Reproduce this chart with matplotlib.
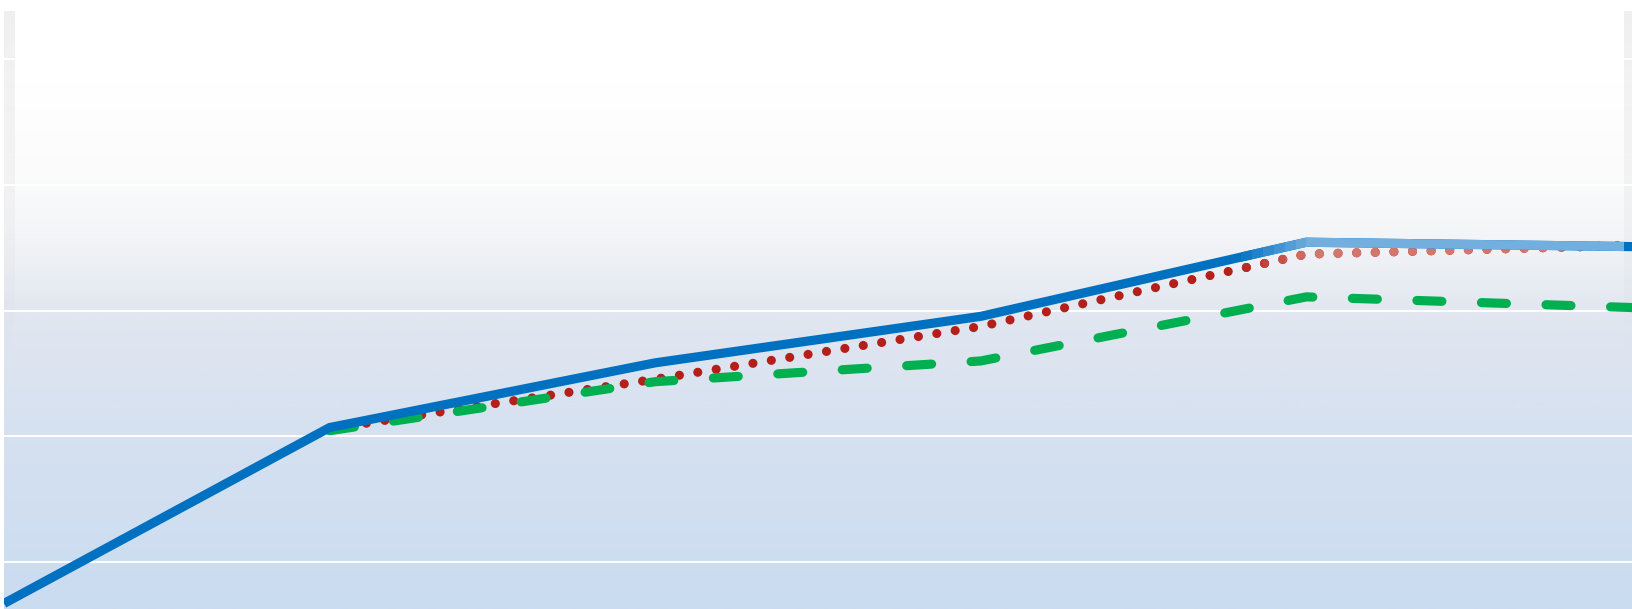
import numpy as np
import matplotlib
matplotlib.use("Agg")
import matplotlib.pyplot as plt
from matplotlib.colors import LinearSegmentedColormap, to_rgb
from matplotlib.patches import Rectangle

plt.rcParams['lines.scale_dashes'] = False

# data
x_blue = [0, 1, 2, 3, 4, 5]
y_blue = [-6.6, 21.4, 31.7, 39.1, 50.9, 50.2]
x_red = [1, 2, 3, 4, 5]
y_red = [21.2, 29.1, 37.5, 49.0, 50.4]
x_green = [1, 2, 3, 4, 5]
y_green = [20.9, 28.7, 32.0, 42.2, 40.5]
grid_vals = [0, 20, 40, 60, 80]

blue = "#0070c0"
red = "#b51f1a"
green = "#00b050"
light_blue = "#72afde"
light_red = "#d3776c"

y_lo, y_hi = -7.48, 87.7
x_lo, x_hi = 0, 5

fig = plt.figure(figsize=(16.32, 6.09), dpi=100)
ax = fig.add_axes([4 / 1632, 0, 1 - 4 / 1632, 1 - 11 / 609])
ax.set_xlim(x_lo, x_hi)
ax.set_ylim(y_lo, y_hi)
ax.axis("off")

# background gradient (top -> bottom)
stops = [(0.0, "#ffffff"), (0.12, "#ffffff"), (0.28, "#fbfbfc"),
         (0.36, "#f5f6f8"), (0.43, "#eceff4"), (0.50, "#e2e7f0"),
         (0.70, "#d6e1f0"), (1.0, "#cadcf1")]
cmap = LinearSegmentedColormap.from_list("bg", stops)
grad = np.linspace(0, 1, 400).reshape(-1, 1)
ax.imshow(grad, cmap=cmap, extent=[x_lo, x_hi, y_lo, y_hi], aspect="auto",
          origin="upper", zorder=0, interpolation="bilinear")

# side strips fading downwards
strip = np.zeros((400, 1, 4))
a = np.clip(1 - np.linspace(0, 1, 400) / 0.6, 0, 1)
strip[:, 0, 3] = 0.065 * a
sw = 11 / 325.6
for x0, x1 in [(x_lo, x_lo + sw), (x_hi - 8 / 325.6, x_hi + 3 / 325.6)]:
    ax.imshow(strip, extent=[x0, x1, y_lo, y_hi], aspect="auto",
              origin="upper", zorder=1)
ax.set_xlim(x_lo, x_hi)

for g in grid_vals:
    ax.axhline(g, color="white", lw=1.5, zorder=2)

lw = 6.6
dot = dict(dashes=(0.01, 13.4), dash_capstyle="round", solid_capstyle="round")
dash = dict(dashes=(18.0, 28.5), dash_capstyle="round")

ax.plot(x_red, y_red, color=red, lw=lw, zorder=3, **dot)
ax.plot(x_green, y_green, color=green, lw=lw, zorder=5, **dash)
ax.plot(x_blue, y_blue, color=blue, lw=lw, zorder=7, solid_capstyle="butt")

# faded look on the upper right part of the lines
edges = np.linspace(3.8, 4.0, 7)
bands = [(edges[i], edges[i + 1], (i + 1) / 7) for i in range(6)]
bands.append((4.0, x_hi - 8 / 325.6, 1.0))
for bx0, bx1, t in bands:
    for xs, ys, c_dark, c_light, z, kw in [
            (x_red, y_red, red, light_red, 4, dot),
            (x_blue, y_blue, blue, light_blue, 8, dict(solid_capstyle="butt"))]:
        c = tuple((1 - t) * np.array(to_rgb(c_dark)) + t * np.array(to_rgb(c_light)))
        ln, = ax.plot(xs, ys, color=c, lw=lw, zorder=z, **kw)
        clip = Rectangle((bx0, 45.5), bx1 - bx0, y_hi - 45.5,
                         transform=ax.transData)
        ln.set_clip_path(clip)

fig.savefig("out.png", dpi=100)
